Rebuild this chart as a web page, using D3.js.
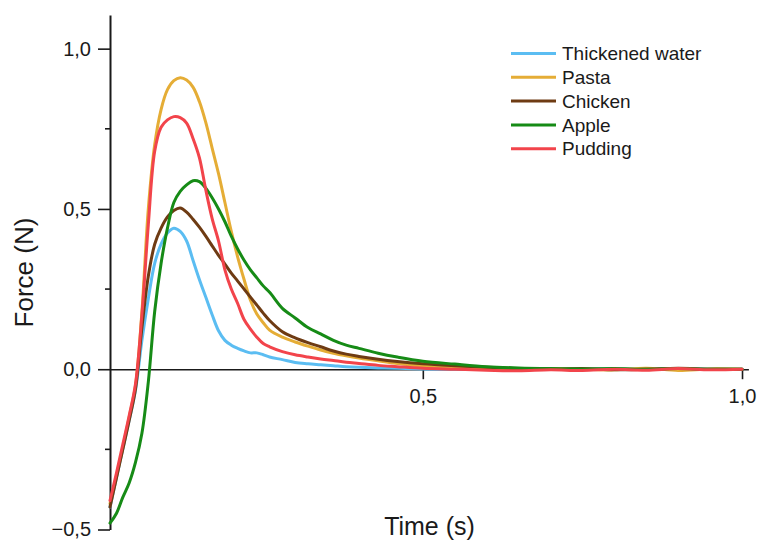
<!DOCTYPE html>
<html>
<head>
<meta charset="utf-8">
<script src="https://cdn.jsdelivr.net/npm/d3@7"></script>
<style>
  body { margin: 0; background: #fff; }
  svg text { font-family: "Liberation Sans", Arial, sans-serif; fill: #1a1a1a; }
</style>
</head>
<body>
<svg id="chart" width="759" height="540"></svg>
<script>
// time grid (s)
const time = [0.01, 0.02, 0.03, 0.04, 0.05, 0.06, 0.07, 0.08, 0.09, 0.10,
  0.11, 0.12, 0.13, 0.14, 0.15, 0.16, 0.17, 0.18, 0.19, 0.20,
  0.21, 0.22, 0.23, 0.24, 0.25, 0.26, 0.28, 0.30, 0.32, 0.34,
  0.36, 0.38, 0.40, 0.43, 0.46, 0.50, 0.55, 0.60, 0.65, 0.70,
  0.75, 0.80, 0.85, 0.90, 0.95, 1.00];

// force (N) per sample
const water = [-0.43, -0.34, -0.25, -0.16, -0.065, 0.09, 0.22, 0.33, 0.39, 0.425,
  0.44, 0.43, 0.40, 0.34, 0.28, 0.225, 0.17, 0.12, 0.09, 0.075,
  0.065, 0.057, 0.051, 0.051, 0.045, 0.038, 0.03, 0.021, 0.017, 0.014,
  0.011, 0.008, 0.006, 0.004, 0.003, 0.001, 0.0, 0.001, 0.0, -0.001,
  0.0, 0.001, 0.0, 0.0, 0.001, 0.0];
const pasta = [-0.42, -0.335, -0.245, -0.15, -0.05, 0.18, 0.50, 0.70, 0.81, 0.872,
  0.90, 0.909, 0.902, 0.88, 0.835, 0.77, 0.69, 0.61, 0.52, 0.43,
  0.35, 0.28, 0.215, 0.172, 0.145, 0.122, 0.10, 0.085, 0.072, 0.06,
  0.05, 0.042, 0.035, 0.026, 0.018, 0.01, 0.005, 0.003, 0.0, 0.002,
  0.0, -0.002, 0.003, -0.004, 0.001, 0.0];
const chicken = [-0.43, -0.34, -0.25, -0.16, -0.06, 0.13, 0.29, 0.39, 0.44, 0.475,
  0.495, 0.503, 0.49, 0.468, 0.443, 0.415, 0.385, 0.355, 0.328, 0.30,
  0.275, 0.25, 0.225, 0.20, 0.175, 0.152, 0.117, 0.098, 0.083, 0.07,
  0.057, 0.047, 0.04, 0.031, 0.024, 0.017, 0.011, 0.006, 0.002, 0.0,
  0.002, -0.002, 0.0, 0.003, 0.0, 0.0];
const apple = [-0.48, -0.45, -0.40, -0.355, -0.29, -0.20, -0.04, 0.18, 0.33, 0.44,
  0.52, 0.555, 0.575, 0.588, 0.585, 0.565, 0.535, 0.50, 0.46, 0.415,
  0.375, 0.34, 0.31, 0.285, 0.26, 0.24, 0.19, 0.16, 0.13, 0.11,
  0.09, 0.075, 0.065, 0.05, 0.038, 0.025, 0.016, 0.008, 0.004, 0.002,
  0.001, 0.002, 0.0, 0.002, 0.0, 0.0];
const pudding = [-0.41, -0.325, -0.235, -0.145, -0.045, 0.17, 0.45, 0.68, 0.755, 0.778,
  0.788, 0.785, 0.768, 0.72, 0.66, 0.56, 0.47, 0.40, 0.31, 0.25,
  0.205, 0.155, 0.125, 0.10, 0.08, 0.07, 0.055, 0.045, 0.038, 0.032,
  0.027, 0.022, 0.018, 0.012, 0.008, 0.003, 0.0, -0.003, -0.005, -0.002,
  -0.004, 0.0, -0.003, 0.002, -0.002, 0.0];

const seriesNames = ["Thickened water", "Pasta", "Chicken", "Apple", "Pudding"];
const seriesValues = [water, pasta, chicken, apple, pudding];
const seriesColors = ["#5bbdf2", "#e5ad36", "#6e3b13", "#168b16", "#f2444b"];

const yTicks = [-0.5, 0, 0.5, 1.0];
const yMinorTicks = [-0.25, 0.25, 0.75];
const xTicks = [0.5, 1.0];

const svg = d3.select("#chart");

const x = d3.scaleLinear().domain([0.01, 1.01]).range([110, 748.4]);
const y = d3.scaleLinear().domain([-0.5, 1.105]).range([529.5, 15]);

const fmt = v => d3.format(".1f")(v).replace(".", ",");

// y axis
const yAxis = svg.append("g")
  .attr("transform", `translate(${x(0.01)},0)`)
  .call(d3.axisLeft(y).tickValues(yTicks).tickFormat(fmt)
    .tickSize(12).tickSizeOuter(0).tickPadding(7));
yAxis.select(".domain").attr("stroke", "#1a1a1a").attr("stroke-width", 2);
yAxis.selectAll(".tick line").attr("stroke", "#1a1a1a").attr("stroke-width", 1.6);
yAxis.selectAll(".tick text").attr("font-size", 20).style("font-family", "Liberation Sans, Arial, sans-serif").attr("fill", "#1a1a1a");

svg.append("g")
  .selectAll("line")
  .data(yMinorTicks)
  .join("line")
  .attr("x1", x(0.01) - 5).attr("x2", x(0.01))
  .attr("y1", d => y(d)).attr("y2", d => y(d))
  .attr("stroke", "#1a1a1a").attr("stroke-width", 1.6);

// x axis along zero
const xAxis = svg.append("g")
  .attr("transform", `translate(0,${y(0)})`)
  .call(d3.axisBottom(x).tickValues(xTicks).tickFormat(fmt)
    .tickSize(10).tickSizeOuter(0).tickPadding(10));
xAxis.select(".domain").attr("stroke", "#1a1a1a").attr("stroke-width", 1.6);
xAxis.selectAll(".tick line").attr("stroke", "#1a1a1a").attr("stroke-width", 1.6);
xAxis.selectAll(".tick text").attr("font-size", 20).style("font-family", "Liberation Sans, Arial, sans-serif").attr("fill", "#1a1a1a");

// lines
const line = d3.line()
  .x((d, i) => x(time[i]))
  .y(d => y(d))
  .curve(d3.curveCatmullRom.alpha(0.5));

svg.append("g")
  .selectAll("path")
  .data(seriesValues)
  .join("path")
  .attr("d", d => line(d))
  .attr("fill", "none")
  .attr("stroke", (d, i) => seriesColors[i])
  .attr("stroke-width", 3)
  .attr("stroke-linejoin", "round")
  .attr("stroke-linecap", "round");

// legend
const legend = svg.append("g");
const rows = legend.selectAll("g")
  .data(seriesNames)
  .join("g")
  .attr("transform", (d, i) => `translate(511,${53.5 + i * 23.8})`);
rows.append("line")
  .attr("x1", 0).attr("x2", 45)
  .attr("stroke", (d, i) => seriesColors[i])
  .attr("stroke-width", 3);
rows.append("text")
  .attr("x", 51)
  .attr("dy", "0.35em")
  .attr("font-size", 19)
  .text(d => d);

// axis titles
svg.append("text")
  .attr("x", 429.5).attr("y", 535)
  .attr("text-anchor", "middle")
  .attr("font-size", 25)
  .text("Time (s)");

svg.append("text")
  .attr("transform", "translate(32.5,272.5) rotate(-90)")
  .attr("text-anchor", "middle")
  .attr("font-size", 26)
  .text("Force (N)");
</script>
</body>
</html>
